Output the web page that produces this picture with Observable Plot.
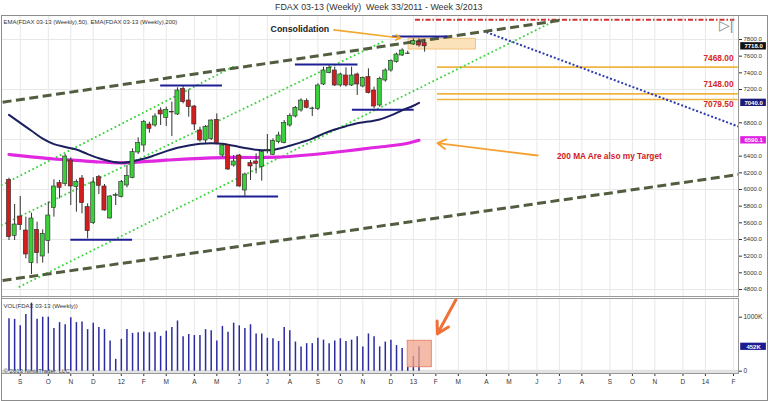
<!DOCTYPE html>
<html><head><meta charset="utf-8">
<script src="https://cdn.jsdelivr.net/npm/d3@7"></script>
<script src="https://cdn.jsdelivr.net/npm/@observablehq/plot@0.6"></script>
<style>
body{margin:0;background:#fff;}
#wrap{position:relative;width:768px;height:401px;overflow:hidden;background:#fff;font-family:Arial,"Liberation Sans",sans-serif;}
#title{position:absolute;left:275px;top:2px;white-space:nowrap;font-size:8.9px;color:#333;}
#main{position:absolute;left:0;top:14px;}
#vol{position:absolute;left:0;top:297px;}
#border{position:absolute;left:1px;top:15px;width:765px;height:384px;border:1px solid #8c8c8c;pointer-events:none;}
</style></head><body>
<div id="wrap">
<div id="title">FDAX 03-13 (Weekly)&nbsp; Week 33/2011 - Week 3/2013</div>
<div id="main"></div>
<div id="vol"></div>
<div id="border"></div>
</div>
<script>
const parse = d3.utcParse("%Y-%m-%d");

// ---------- DATA ----------
const firstWeek = "2011-08-19";
const lastWeek = "2013-01-18";
const opens = [6116,5444,5676,5508,5116,5516,5196,5380,5780,6076, 6068,6348,6028,6132,5788,5596,6148,6036,5652,5924, 5908,6048,6136,6444,6528,6780,6768,6948,6860,6924, 6900,7208,7068,6996,6708,6588,6608,6836,6408,6528, 6288,6408,5988,6316,6336,6268,6464,6416,6568,6556, 6768,6876,6948,7060,6964,6968,7260,7396,7428,7248, 7368,7248,7380,7236,7348,7188,7008,7308,7428,7528, 7608,7632,7740,7768,7756];
const highs = [6136,5820,5916,5668,5716,5608,5516,5848,6116,6108, 6420,6380,6116,6168,5828,6140,6168,6060,5928,5956, 6108,6288,6488,6620,6828,6808,6908,6980,6988,7048, 7220,7236,7196,7008,6748,6768,6836,6908,6548,6540, 6408,6420,6196,6348,6428,6460,6660,6608,6688,6828, 6908,6996,7088,7088,6988,7268,7468,7488,7468,7396, 7460,7468,7396,7350,7448,7228,7348,7448,7556,7636, 7688,7660,7808,7808,7796];
const lows = [5388,5388,5508,5168,4980,5108,5116,5228,5668,5888, 6036,5808,5728,5708,5408,5580,5940,5740,5644,5808, 5900,6020,6128,6420,6448,6676,6748,6768,6756,6636, 6888,7028,6868,6708,6568,6548,6588,6548,6388,6228, 6268,6028,5908,6108,6188,6100,6428,6408,6548,6548, 6748,6860,6928,6968,6876,6948,7248,7388,7236,7228, 7228,7236,7128,7220,7148,6968,6988,7288,7408,7516, 7596,7620,7728,7708,7648];
const closes = [5428,5580,5572,5220,5652,5236,5468,5688,6036,6020, 6396,6036,6092,5836,5500,6084,6044,5748,5916,5932, 6088,6164,6448,6556,6808,6728,6876,6900,6956,6932, 7188,7048,6988,6780,6588,6748,6828,6556,6528,6240, 6336,6036,6180,6276,6308,6448,6472,6580,6648,6796, 6880,6980,7068,6980,6972,7248,7428,7460,7248,7380, 7248,7368,7260,7340,7156,6996,7328,7428,7540,7620, 7668,7628,7780,7728,7718];
// weekly volume in K (first 74 weeks)
const volumes = [970,960,840,1050,1260,960,1000,1000,790,900, 860,990,900,910,770,890,810,770,560,220, 590,770,700,710,725,710,720,645,740,810, 930,640,680,660,660,770,750,560,830,720, 890,840,790,860,690,690,610,600,550,810, 750,540,450,510,510,610,575,510,560,600, 550,575,640,450,690,640,450,540,575,475, 420,75,275,452];

const ema50Week = [1,3,5,7,9,11,13,15,17,19,21,23,25,27,29,31,33,35,37,39,41,43,45,47,49,51,53,55,57,59,61,63,65,67,69,71,73,74];
const ema50 = [6896,6800,6705,6610,6545,6510,6480,6425,6375,6338,6320,6338,6368,6412,6460,6500,6528,6548,6556,6548,6524,6498,6478,6470,6488,6525,6565,6610,6670,6720,6760,6795,6815,6840,6890,6950,7005,7040];
const ema200Week = [1,5,9,13,17,21,25,29,33,37,41,45,49,53,57,61,65,69,72,74];
const ema200 = [6420,6392,6366,6350,6330,6320,6334,6352,6368,6380,6386,6384,6388,6408,6432,6462,6495,6525,6555,6590.1];

// 7000 and 6600 labels sit under the EMA badges in the reference
const priceTicks = [4800,5000,5200,5400,5600,5800,6000,6200,6400,6800,7200,7400,7600,7800];
const priceGrid = [4800,5400,6000,6600,7200,7800];
const volTicks = [0,1000];
const volTickLabels = ["0","1000K"];
const monthDates = ["2011-09-02","2011-10-07","2011-11-04","2011-12-02","2012-01-06","2012-02-03","2012-03-02","2012-04-06","2012-05-04","2012-06-01","2012-07-06","2012-08-03","2012-09-07","2012-10-05","2012-11-02","2012-12-07","2013-01-04","2013-02-01","2013-03-01","2013-04-05","2013-05-03","2013-06-07","2013-07-05","2013-08-02","2013-09-06","2013-10-04","2013-11-01","2013-12-06","2014-01-03","2014-02-07"];
const monthLabels = ["S","O","N","D","12","F","M","A","M","J","J","A","S","O","N","D","13","F","M","A","M","J","J","A","S","O","N","D","14","F"];

const oliveDashed = [
  {from:"2011-08-11", v1:7048, to:"2013-07-09", v2:8034},
  {from:"2011-08-11", v1:4908, to:"2014-02-13", v2:6179}
];
const greenDotted = [
  {from:"2011-08-09", v1:6048, to:"2012-05-25", v2:7476},
  {from:"2011-08-09", v1:5568, to:"2012-11-30", v2:7788},
  {from:"2011-08-31", v1:4828, to:"2013-06-30", v2:8028}
];
const blueDotted = [{from:"2013-04-05", v1:7888, to:"2014-02-13", v2:6756}];
const redDotted = [{from:"2013-01-06", v1:8036, to:"2014-02-08", v2:8036}];
const targetLevels = [7468, 7148, 7079.5];
const targetLabels = ["7468.00","7148.00","7079.50"];
const targetFrom = "2013-02-03", targetTo = "2014-02-13", targetLabelAt = "2014-02-07";
const consolidationBox = [{from:"2012-12-29", to:"2013-03-23", top:7808, bottom:7680}];
const supportLines = [
  {from:"2011-11-04", to:"2012-01-20", v:5396},
  {from:"2012-02-24", to:"2012-05-11", v:7248},
  {from:"2012-05-05", to:"2012-07-20", v:5916},
  {from:"2012-08-10", to:"2012-10-27", v:7500},
  {from:"2012-10-20", to:"2013-01-05", v:6956},
  {from:"2012-12-09", to:"2013-02-16", v:7836}
];
const consolidationNote = [{at:"2012-07-10", v:7928, text:"Consolidation"}];
const consolidationArrow = [{from:"2012-09-27", v1:7916, to:"2012-12-19", v2:7818}];
const targetNote = [{at:"2013-07-02", v:6396, text:"200 MA Are also my Target"}];
const targetArrow = [{from:"2013-06-08", v1:6408, to:"2013-02-03", v2:6556}];
const volArrow = [{from:"2013-02-26", v1:1322, to:"2013-02-03", v2:692}];
const volBox = [{from:"2012-12-28", to:"2013-01-27", top:563, bottom:74}];
const priceBadges = [
  {v:7718, text:"7718.0", color:"#111111"},
  {v:7040, text:"7040.0", color:"#1c1c78"},
  {v:6590.1, text:"6590.1", color:"#e020e0"}
];
const volBadges = [{v:452, text:"452K", color:"#1c1c90"}];
const legendText = "EMA(FDAX 03-13 (Weekly),50), EMA(FDAX 03-13 (Weekly),200)";
const volLegend = "VOL(FDAX 03-13 (Weekly))";
const copyright = "© 2013 NinjaTrader, LLC";

// ---------- BUILD ----------
const weekDates = d3.utcFriday.range(parse(firstWeek), d3.utcDay.offset(parse(lastWeek), 1));
const candles = weekDates.map((date, i) => ({date, open: opens[i], high: highs[i], low: lows[i], close: closes[i]}));
const volData = volumes.map((v, i) => ({date: weekDates[i], vol: v}));
const ema50Data = ema50Week.map((w, i) => ({date: weekDates[w - 1], v: ema50[i]}));
const ema200Data = ema200Week.map((w, i) => ({date: weekDates[w - 1], v: ema200[i]}));
const months = monthDates.map(parse);
const monthLabelMap = new Map(months.map((d, i) => [+d, monthLabels[i]]));
const volLabelMap = new Map(volTicks.map((d, i) => [d, volTickLabels[i]]));
const seg = arr => arr.map(d => ({...d, from: parse(d.from), to: parse(d.to)}));
const targets = targetLevels.map((v, i) => ({v, label: targetLabels[i], from: parse(targetFrom), to: parse(targetTo), at: parse(targetLabelAt)}));

const xDomain = [parse(firstWeek), parse("2014-02-07")];
const xRange = [8.5, 733];
const badgeX1 = parse("2014-02-16"), badgeX2 = parse("2014-03-20"), badgeXM = parse("2014-03-04");
const font = "Arial, 'Liberation Sans', sans-serif";
const green = "#3ccf3c", red = "#d01e1e";

const linkOpts = {x1: "from", y1: "v1", x2: "to", y2: "v2"};

const main = Plot.plot({
  width: 768, height: 283,
  marginTop: 1, marginBottom: 1, marginLeft: 1, marginRight: 30,
  style: {background: "transparent", fontFamily: font, fontSize: "6px", color: "#333"},
  x: {type: "utc", domain: xDomain, range: xRange, axis: null},
  y: {domain: [4800, 7800], range: [275, 25], axis: "right", ticks: priceTicks, tickFormat: d3.format(".1f"), tickSize: 3, tickPadding: 2, label: null},
  marks: [
    Plot.ruleY(priceGrid, {stroke: "#e8e8e8", strokeWidth: 1}),
    Plot.ruleX(months, {stroke: "#e8e8e8", strokeWidth: 1}),
    Plot.rect(seg(consolidationBox), {x1: "from", x2: "to", y1: "bottom", y2: "top", fill: "#fbe2bb", stroke: "#f2c47a", strokeWidth: 1}),
    Plot.ruleY(targets, {y: "v", x1: "from", x2: "to", stroke: "#f0b443", strokeWidth: 1.6}),
    Plot.link(seg(redDotted), {...linkOpts, stroke: "#d03030", strokeWidth: 2, strokeDasharray: "5,2,1.5,2"}),
    Plot.link(seg(greenDotted), {...linkOpts, stroke: "#3fd43f", strokeWidth: 1.8, strokeDasharray: "1.8,2.6"}),
    Plot.link(seg(blueDotted), {...linkOpts, stroke: "#2b3bb0", strokeWidth: 2, strokeDasharray: "2,2"}),
    Plot.link(seg(oliveDashed), {...linkOpts, stroke: "#525d3f", strokeWidth: 3, strokeDasharray: "9,4.5"}),
    Plot.ruleY(seg(supportLines), {y: "v", x1: "from", x2: "to", stroke: "#1f1f95", strokeWidth: 2}),
    Plot.line(ema200Data, {x: "date", y: "v", stroke: "#e028e0", strokeWidth: 3.2, curve: "monotone-x"}),
    Plot.line(ema50Data, {x: "date", y: "v", stroke: "#1b1f5e", strokeWidth: 2, curve: "monotone-x"}),
    Plot.ruleX(candles, {x: "date", y1: "low", y2: "high", stroke: "#333", strokeWidth: 1}),
    Plot.rect(candles, {
      x1: d => d3.utcHour.offset(d.date, -62), x2: d => d3.utcHour.offset(d.date, 62),
      y1: "open", y2: "close",
      fill: d => d.close >= d.open ? green : red, stroke: "#2a2a2a", strokeWidth: 0.6
    }),
    Plot.text(consolidationNote, {x: d => parse(d.at), y: "v", text: "text", textAnchor: "start", fontSize: 8.8, fontWeight: "bold", fill: "#222"}),
    Plot.arrow(seg(consolidationArrow), {...linkOpts, stroke: "#f0a830", strokeWidth: 1.6, headLength: 5}),
    Plot.arrow(seg(targetArrow), {...linkOpts, stroke: "#f5a030", strokeWidth: 1.8, headLength: 8}),
    Plot.text(targetNote, {x: d => parse(d.at), y: "v", text: "text", textAnchor: "start", fontSize: 8.3, fontWeight: "bold", fill: "#d01c2a"}),
    ...targets.map((t, i) => Plot.text([t], {x: "at", y: "v", text: "label", textAnchor: "end", dy: [-8.4, -9.3, 5][i], fontSize: 8.3, fontWeight: "bold", fill: "#d42a2a"})),
    Plot.text(["▷|"], {frameAnchor: "top-right", text: d => d, dx: -5, dy: 5, fontSize: 14, fill: "#8a8a8a"}),
    Plot.text([legendText], {frameAnchor: "top-left", text: d => d, dx: 2, dy: 4.5, fontSize: 6, fill: "#333"}),
    Plot.rect(priceBadges, {x1: () => badgeX1, x2: () => badgeX2, y1: d => d.v - 44, y2: d => d.v + 44, fill: "color"}),
    Plot.text(priceBadges, {x: () => badgeXM, y: "v", text: "text", fill: "white", fontSize: 6, fontWeight: "bold"}),
    Plot.frame({stroke: "#999"})
  ]
});
document.getElementById("main").append(main);

const vol = Plot.plot({
  width: 768, height: 104,
  marginTop: 1, marginBottom: 28, marginLeft: 1, marginRight: 30,
  style: {background: "transparent", fontFamily: font, fontSize: "6.5px", color: "#333"},
  x: {type: "utc", domain: xDomain, range: xRange, axis: "bottom", ticks: months, tickFormat: d => monthLabelMap.get(+d), tickSize: 3, tickPadding: 3, label: null},
  y: {domain: [0, 1000], range: [73.7, 19.7], axis: "right", ticks: volTicks, tickFormat: d => volLabelMap.get(d), tickSize: 3, tickPadding: 2, label: null},
  marks: [
    Plot.ruleX(months, {stroke: "#e8e8e8", strokeWidth: 1}),
    Plot.ruleY([0], {stroke: "#e2e2e2", strokeWidth: 4, dy: 0.5}),
    Plot.ruleX(volData, {x: "date", y1: 0, y2: "vol", stroke: "#2b2ba0", strokeWidth: 1.5}),
    Plot.rect(seg(volBox), {x1: "from", x2: "to", y1: "bottom", y2: "top", fill: "#f2a48c", fillOpacity: 0.75, stroke: "#e58a70", strokeWidth: 1}),
    Plot.arrow(seg(volArrow), {...linkOpts, stroke: "#f07038", strokeWidth: 3, headLength: 8}),
    Plot.text([volLegend], {frameAnchor: "top-left", text: d => d, dx: 2, dy: 5, fontSize: 6, fill: "#333"}),
    Plot.text([copyright], {frameAnchor: "bottom-left", text: d => d, dx: 2, dy: -1, fontSize: 6, fill: "#444"}),
    Plot.rect(volBadges, {x1: () => badgeX1, x2: () => badgeX2, y1: d => d.v - 67, y2: d => d.v + 67, fill: "color"}),
    Plot.text(volBadges, {x: () => badgeXM, y: "v", text: "text", fill: "white", fontSize: 6, fontWeight: "bold"}),
    Plot.frame({stroke: "#999"})
  ]
});
document.getElementById("vol").append(vol);
</script>
</body></html>
